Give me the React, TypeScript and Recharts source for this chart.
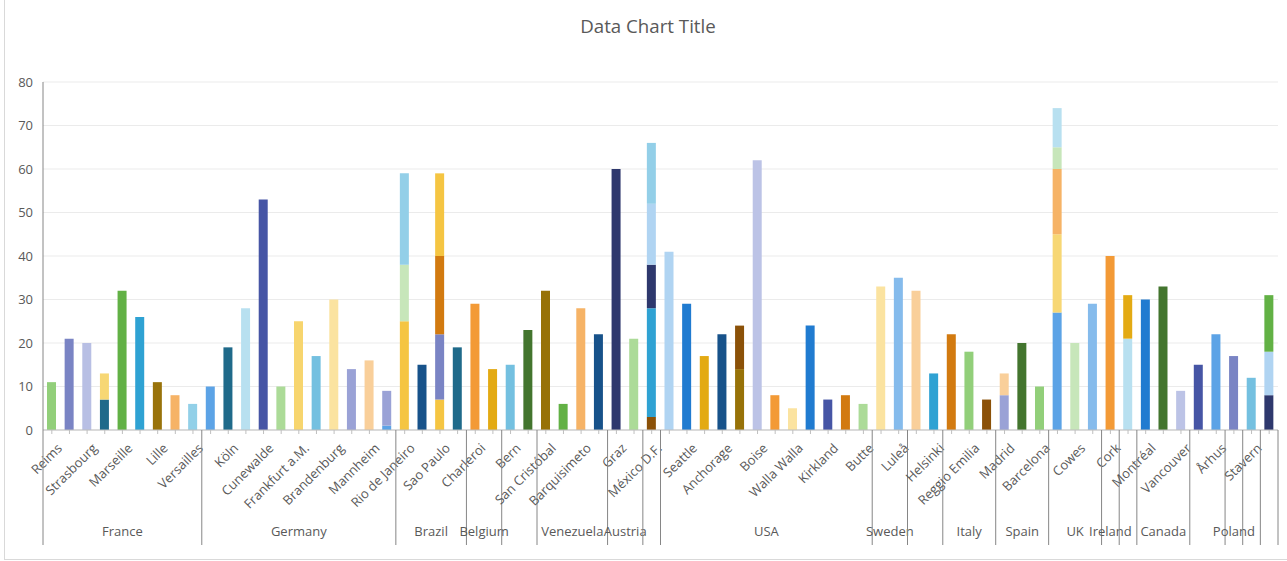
import React from 'react';
import { BarChart, Bar, XAxis, YAxis, CartesianGrid, Cell } from 'recharts';

// city labels (Excel only printed every second one)
const cities = [
  'Reims', '', 'Strasbourg', '', 'Marseille', '', 'Lille', '', 'Versailles', '',
  'Köln', '', 'Cunewalde', '', 'Frankfurt a.M.', '', 'Brandenburg', '', 'Mannheim', '',
  'Rio de Janeiro', '', 'Sao Paulo', '', 'Charleroi', '', 'Bern', '', 'San Cristóbal', '',
  'Barquisimeto', '', 'Graz', '', 'México D.F.', '', 'Seattle', '', 'Anchorage', '',
  'Boise', '', 'Walla Walla', '', 'Kirkland', '', 'Butte', '', 'Luleå', '',
  'Helsinki', '', 'Reggio Emilia', '', 'Madrid', '', 'Barcelona', '', 'Cowes', '',
  'Cork', '', 'Montréal', '', 'Vancouver', '', 'Århus', '', 'Stavern', '',
];

// country groups, in order, with how many cities each spans
const countries = ['France', 'Germany', 'Brazil', 'Belgium', '', 'Venezuela', 'Austria', '', 'USA', 'Sweden', '', 'Italy', 'Spain', 'UK', 'Ireland', '', 'Canada', '', 'Poland', '', ''];
const countryCounts = [9, 11, 4, 2, 2, 4, 2, 1, 12, 2, 2, 3, 3, 3, 1, 1, 3, 2, 1, 1, 1];

// stacked values, bottom layer first
const layer1 = [
  11, 21, 20, 7, 32, 26, 11, 8, 6, 10,
  19, 28, 53, 10, 25, 17, 30, 14, 16, 1,
  25, 15, 7, 19, 29, 14, 15, 23, 32, 6,
  28, 22, 60, 21, 3, 41, 29, 17, 22, 14,
  62, 8, 5, 24, 7, 8, 6, 33, 35, 32,
  13, 22, 18, 7, 8, 20, 10, 27, 20, 29,
  40, 21, 30, 33, 9, 15, 22, 17, 12, 8,
];
const layer2 = [
  0, 0, 0, 6, 0, 0, 0, 0, 0, 0,
  0, 0, 0, 0, 0, 0, 0, 0, 0, 8,
  13, 0, 15, 0, 0, 0, 0, 0, 0, 0,
  0, 0, 0, 0, 25, 0, 0, 0, 0, 10,
  0, 0, 0, 0, 0, 0, 0, 0, 0, 0,
  0, 0, 0, 0, 5, 0, 0, 18, 0, 0,
  0, 10, 0, 0, 0, 0, 0, 0, 0, 10,
];
const layer3 = [
  0, 0, 0, 0, 0, 0, 0, 0, 0, 0,
  0, 0, 0, 0, 0, 0, 0, 0, 0, 0,
  21, 0, 18, 0, 0, 0, 0, 0, 0, 0,
  0, 0, 0, 0, 10, 0, 0, 0, 0, 0,
  0, 0, 0, 0, 0, 0, 0, 0, 0, 0,
  0, 0, 0, 0, 0, 0, 0, 15, 0, 0,
  0, 0, 0, 0, 0, 0, 0, 0, 0, 13,
];
const layer4 = [
  0, 0, 0, 0, 0, 0, 0, 0, 0, 0,
  0, 0, 0, 0, 0, 0, 0, 0, 0, 0,
  0, 0, 19, 0, 0, 0, 0, 0, 0, 0,
  0, 0, 0, 0, 14, 0, 0, 0, 0, 0,
  0, 0, 0, 0, 0, 0, 0, 0, 0, 0,
  0, 0, 0, 0, 0, 0, 0, 5, 0, 0,
  0, 0, 0, 0, 0, 0, 0, 0, 0, 0,
];
const layer5 = [
  0, 0, 0, 0, 0, 0, 0, 0, 0, 0,
  0, 0, 0, 0, 0, 0, 0, 0, 0, 0,
  0, 0, 0, 0, 0, 0, 0, 0, 0, 0,
  0, 0, 0, 0, 14, 0, 0, 0, 0, 0,
  0, 0, 0, 0, 0, 0, 0, 0, 0, 0,
  0, 0, 0, 0, 0, 0, 0, 9, 0, 0,
  0, 0, 0, 0, 0, 0, 0, 0, 0, 0,
];

const yTicks = [0, 10, 20, 30, 40, 50, 60, 70, 80];

// colours
const colors1 = [
  '#92cf7a', '#7a84c4', '#b8bfe4', '#1f6a8a', '#62b145', '#2fa2d3', '#99730a', '#f6b366', '#92d0e8', '#5ca3e6',
  '#1f6a8a', '#b8e0f0', '#4655a5', '#acdb98', '#f7d56e', '#74c0e0', '#fbe3a0', '#9aa2d6', '#f9cf9a', '#5ca3e6',
  '#f5c542', '#17528a', '#f5c542', '#1f6a8a', '#f39a36', '#e3aa13', '#74c0e0', '#43752e', '#977208', '#62b145',
  '#f6b366', '#17528a', '#2e386d', '#acdb98', '#8b5108', '#b0d4f2', '#207bd0', '#e3aa13', '#17528a', '#977208',
  '#bcc3e6', '#f39a36', '#fbe3a0', '#207bd0', '#4655a5', '#d27a10', '#acdb98', '#fbe3a0', '#85bbec', '#f9cf9a',
  '#2fa2d3', '#d27a10', '#92cf7a', '#8b5108', '#9aa2d6', '#43752e', '#92cf7a', '#5ca3e6', '#c7e6ba', '#85bbec',
  '#f39a36', '#b8e0f0', '#207bd0', '#43752e', '#bcc3e6', '#4655a5', '#5ca3e6', '#7a84c4', '#74c0e0', '#2e386d',
];
const colors2: Record<number, string> = { 3: '#f7d774', 19: '#9aa2d6', 20: '#c7e6ba', 22: '#7a84c4', 34: '#2fa2d3', 39: '#8b5108', 54: '#f9cf9a', 57: '#f7d774', 61: '#e3aa13', 69: '#b0d4f2' };
const colors3: Record<number, string> = { 20: '#93cfe8', 22: '#d27a10', 34: '#2e386d', 57: '#f6b366', 69: '#62b145' };
const colors4: Record<number, string> = { 22: '#f5c542', 34: '#b0d4f2', 57: '#c7e6ba' };
const colors5: Record<number, string> = { 34: '#93cfe8', 57: '#b8e0f0' };

const layers = [layer1, layer2, layer3, layer4, layer5];
const layerColors = [colors1, colors2, colors3, colors4, colors5];

const data = cities.map((city, i) => ({
  key: i,
  city,
  l1: layer1[i],
  l2: layer2[i],
  l3: layer3[i],
  l4: layer4[i],
  l5: layer5[i],
}));

// group starts
const groupAt: Record<number, { name: string; count: number }> = {};
{
  let start = 0;
  countries.forEach((name, g) => {
    groupAt[start] = { name, count: countryCounts[g] };
    start += countryCounts[g];
  });
}

const W = 1287;
const H = 561;
const PLOT_LEFT = 43;
const PLOT_RIGHT = 1278;
const PLOT_TOP = 82;
const AXIS_Y = 430;
const STEP = (PLOT_RIGHT - PLOT_LEFT) / cities.length;
const FONT = '"Open Sans", "Segoe UI", sans-serif';
const TEXT = '#595959';

const CityTick = (props: any) => {
  const { x, y, payload } = props;
  const i = Number(payload.value);
  const city = cities[i];
  const group = groupAt[i];
  const ax = x + 11;
  const ay = y + 19;
  return (
    <g>
      <line x1={x} x2={x} y1={y} y2={y + 4} stroke="#bfbfbf" />
      {city && (
        <text x={ax} y={ay} transform={`rotate(-45 ${ax} ${ay})`} textAnchor="end" fontSize={13} fill={TEXT} fontFamily={FONT}>
          {city}
        </text>
      )}
      {group && <line x1={x - STEP / 2} x2={x - STEP / 2} y1={y} y2={y + 115} stroke="#868686" />}
      {i === cities.length - 1 && <line x1={x + STEP / 2} x2={x + STEP / 2} y1={y} y2={y + 115} stroke="#868686" />}
      {group && group.name && (
        <text x={x - STEP / 2 + (group.count * STEP) / 2} y={y + 106} textAnchor="middle" fontSize={13} fill={TEXT} fontFamily={FONT}>
          {group.name}
        </text>
      )}
    </g>
  );
};

export default function App() {
  return (
    <div style={{ position: 'absolute', left: 0, top: 0, width: W, height: H, background: '#fff', fontFamily: FONT }}>
      <div style={{ position: 'absolute', left: 4, top: -1, width: W - 4, height: 560, borderLeft: '1px solid #d9d9d9', borderBottom: '1px solid #d9d9d9' }} />
      <div style={{ position: 'absolute', left: 648, top: 13, transform: 'translateX(-50%)', fontSize: 18.7, color: TEXT, whiteSpace: 'nowrap' }}>
        Data Chart Title
      </div>
      <BarChart
        width={W}
        height={H}
        data={data}
        margin={{ top: PLOT_TOP, right: W - PLOT_RIGHT, bottom: 0, left: 0 }}
        barSize={9}
        style={{ position: 'absolute', left: 0, top: 0 }}
      >
        <CartesianGrid vertical={false} stroke="#ebebeb" />
        <XAxis
          dataKey="key"
          type="category"
          interval={0}
          height={H - AXIS_Y}
          tickSize={0}
          tickMargin={0}
          tickLine={false}
          axisLine={{ stroke: '#bfbfbf' }}
          tick={<CityTick />}
        />
        <YAxis
          width={PLOT_LEFT}
          domain={[0, 80]}
          ticks={yTicks}
          interval={0}
          tickLine={false}
          tickSize={6}
          tickMargin={4}
          axisLine={{ stroke: '#868686' }}
          tick={{ fontSize: 13, fill: TEXT, fontFamily: FONT }}
        />
        {layers.map((layer, li) => (
          <Bar key={li} dataKey={`l${li + 1}`} stackId="a" isAnimationActive={false}>
            {layer.map((_, i) => (
              <Cell key={i} fill={(layerColors[li] as any)[i] || '#cccccc'} />
            ))}
          </Bar>
        ))}
      </BarChart>
    </div>
  );
}
